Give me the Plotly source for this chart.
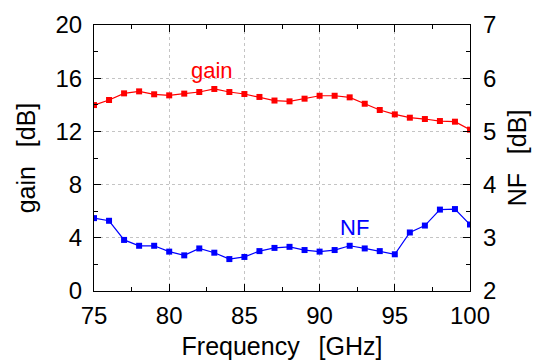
import plotly.graph_objects as go

freq = list(range(75, 101))
gain = [13.98, 14.36, 14.86, 15.01, 14.79, 14.71, 14.84, 14.96, 15.19, 14.96,
        14.81, 14.59, 14.32, 14.26, 14.46, 14.68, 14.68, 14.56, 14.08, 13.61,
        13.28, 13.03, 12.93, 12.78, 12.73, 12.13]
nf = [3.37, 3.32, 2.96, 2.85, 2.85, 2.74, 2.67, 2.80, 2.72, 2.60,
      2.64, 2.75, 2.81, 2.83, 2.77, 2.74, 2.77, 2.85, 2.80, 2.75,
      2.69, 3.10, 3.23, 3.53, 3.54, 3.25]

FONT = "Liberation Sans, Arial, sans-serif"
SP = "\u00a0\u00a0\u2009"
fig = go.Figure()
fig.add_trace(go.Scatter(x=freq, y=gain, mode="lines+markers", name="gain",
                         line=dict(color="#ff0000", width=1.2),
                         marker=dict(symbol="square", size=6, color="#ff0000"),
                         yaxis="y"))
fig.add_trace(go.Scatter(x=freq, y=nf, mode="lines+markers", name="NF",
                         line=dict(color="#0000ff", width=1.2),
                         marker=dict(symbol="square", size=6, color="#0000ff"),
                         yaxis="y2"))

fig.add_annotation(x=82.85, y=16.6, xref="x", yref="y", text="gain", showarrow=False,
                   font=dict(family=FONT, size=22, color="#ff0000"))
fig.add_annotation(x=92.35, y=4.75, xref="x", yref="y", text="NF", showarrow=False,
                   font=dict(family=FONT, size=22, color="#0000ff"))

grid = dict(showgrid=True, gridcolor="#c4c4c4", griddash="dot", gridwidth=1)
fig.update_layout(
    width=534, height=360, margin=dict(l=94, r=64, t=25, b=69, autoexpand=False),
    paper_bgcolor="white", plot_bgcolor="white", showlegend=False,
    font=dict(family=FONT, size=24, color="black"),
    xaxis=dict(range=[75, 100], dtick=5, tick0=75, ticks="inside", ticklen=7,
               tickcolor="black", showline=True, linecolor="black", linewidth=1.2,
               mirror="ticks", ticklabelstandoff=3, automargin=False,
               minor=dict(dtick=2.5, ticks="inside", ticklen=4, tickcolor="black"),
               title=dict(text="Frequency" + SP + "[GHz]", standoff=13,
                          font=dict(size=25)),
               zeroline=False, **grid),
    yaxis=dict(range=[0, 20], dtick=4, tick0=0, ticks="inside", ticklen=7,
               tickcolor="black", showline=True, linecolor="black", linewidth=1.2,
               ticklabelstandoff=6, automargin=False,
               minor=dict(dtick=2, ticks="inside", ticklen=4, tickcolor="black"),
               title=dict(text="gain" + SP + "[dB]", standoff=12, font=dict(size=25)),
               zeroline=False, **grid),
    yaxis2=dict(range=[2, 7], dtick=1, tick0=2, ticks="inside", ticklen=7,
                tickcolor="black", showline=True, linecolor="black", linewidth=1.2,
                overlaying="y", side="right", showgrid=False, ticklabelstandoff=7,
                automargin=False,
                minor=dict(dtick=0.5, ticks="inside", ticklen=4, tickcolor="black"),
                title=dict(text="NF" + SP + "[dB]", standoff=13, font=dict(size=25)),
                zeroline=False),
)
fig.write_html("out.html")
